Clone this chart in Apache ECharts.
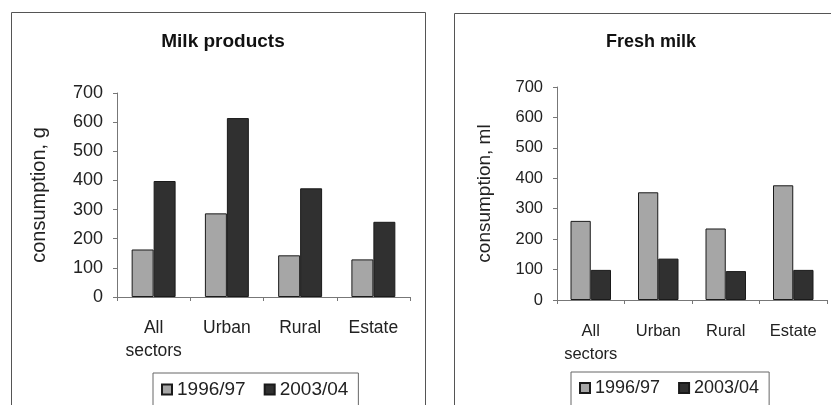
<!DOCTYPE html>
<html>
<head>
<meta charset="utf-8">
<script src="https://cdn.jsdelivr.net/npm/echarts@6/dist/echarts.min.js"></script>
<style>
html,body{margin:0;padding:0;background:#fff;}
#c{width:831px;height:405px;}
</style>
</head>
<body>
<div id="c"></div>
<script>
const categories = ['All\nsectors', 'Urban', 'Rural', 'Estate'];
const seriesNames = ['1996/97', '2003/04'];
const milkProducts1996 = [163, 287, 143, 129];
const milkProducts2003 = [398, 614, 373, 258];
const freshMilk1996 = [260, 354, 235, 377];
const freshMilk2003 = [99, 136, 95, 99];
const yTicks = { min: 0, max: 700, interval: 100 };
const titles = ['Milk products', 'Fresh milk'];
const yNames = ['consumption, g', 'consumption, ml'];

const FONT = 'Liberation Sans, Arial, sans-serif';
const LIGHT = '#a6a6a6';
const DARK = '#303030';
const AXIS = '#777';

// per-panel font sizes (the right panel is printed slightly smaller)
const FS = [
  { tick: 18, cat: 17.5, name: 20, title: 19, legend: 19 },
  { tick: 16.5, cat: 16.5, name: 19, title: 18, legend: 18 }
];

const chart = echarts.init(document.getElementById('c'), null, { renderer: 'canvas' });

function xAxis(gi) {
  return {
    type: 'category', gridIndex: gi, data: categories,
    axisLine: { lineStyle: { color: AXIS, width: 1 } },
    axisTick: { show: true, alignWithLabel: false, length: 4, lineStyle: { color: AXIS } },
    axisLabel: { color: '#222', fontFamily: FONT, fontSize: FS[gi].cat, margin: 20, lineHeight: 23, interval: 0 },
    splitLine: { show: false }
  };
}
function yAxis(gi, name, gap) {
  return {
    type: 'value', gridIndex: gi, min: yTicks.min, max: yTicks.max, interval: yTicks.interval,
    name: name, nameLocation: 'middle', nameGap: gap, nameRotate: 90,
    nameTextStyle: { color: '#222', fontFamily: FONT, fontSize: FS[gi].name },
    axisLine: { show: true, lineStyle: { color: AXIS, width: 1 } },
    axisTick: { show: true, length: 4, lineStyle: { color: AXIS } },
    axisLabel: { color: '#222', fontFamily: FONT, fontSize: FS[gi].tick, margin: 14 },
    splitLine: { show: false }
  };
}
function bar(name, data, gi, color) {
  return {
    name: name, type: 'bar', xAxisIndex: gi, yAxisIndex: gi, data: data,
    barGap: '0%', barCategoryGap: '40%',
    itemStyle: { color: color, borderColor: '#1a1a1a', borderWidth: 1 },
    animation: false
  };
}
function legend(gi, left, top) {
  return {
    data: seriesNames.map(n => ({ name: n, icon: 'rect' })),
    left: left, top: top, orient: 'horizontal', itemWidth: 10, itemHeight: 10, itemGap: 18,
    borderColor: '#666', borderWidth: 1, padding: [7, 10, 12, 8],
    textStyle: { fontFamily: FONT, fontSize: FS[gi].legend, color: '#222' }
  };
}

chart.setOption({
  animation: false,
  backgroundColor: '#fff',
  graphic: [
    { type: 'rect', shape: { x: 11.5, y: 12.5, width: 414, height: 420 }, style: { fill: 'none', stroke: '#555', lineWidth: 1 } },
    { type: 'rect', shape: { x: 454.5, y: 13.5, width: 420, height: 420 }, style: { fill: 'none', stroke: '#555', lineWidth: 1 } }
  ],
  title: [
    { text: titles[0], left: 218, top: 27, textAlign: 'center', textStyle: { fontFamily: FONT, fontSize: FS[0].title, fontWeight: 'bold', color: '#111' } },
    { text: titles[1], left: 646, top: 28, textAlign: 'center', textStyle: { fontFamily: FONT, fontSize: FS[1].title, fontWeight: 'bold', color: '#111' } }
  ],
  legend: [legend(0, 153, 373), legend(1, 571, 372)],
  grid: [
    { left: 117, right: 421, top: 93, bottom: 108 },
    { left: 557, right: 4, top: 87, bottom: 105 }
  ],
  xAxis: [xAxis(0), xAxis(1)],
  yAxis: [yAxis(0, yNames[0], 68), yAxis(1, yNames[1], 63)],
  color: [LIGHT, DARK],
  series: [
    bar(seriesNames[0], milkProducts1996, 0, LIGHT),
    bar(seriesNames[1], milkProducts2003, 0, DARK),
    bar(seriesNames[0], freshMilk1996, 1, LIGHT),
    bar(seriesNames[1], freshMilk2003, 1, DARK)
  ]
});
</script>
</body>
</html>
